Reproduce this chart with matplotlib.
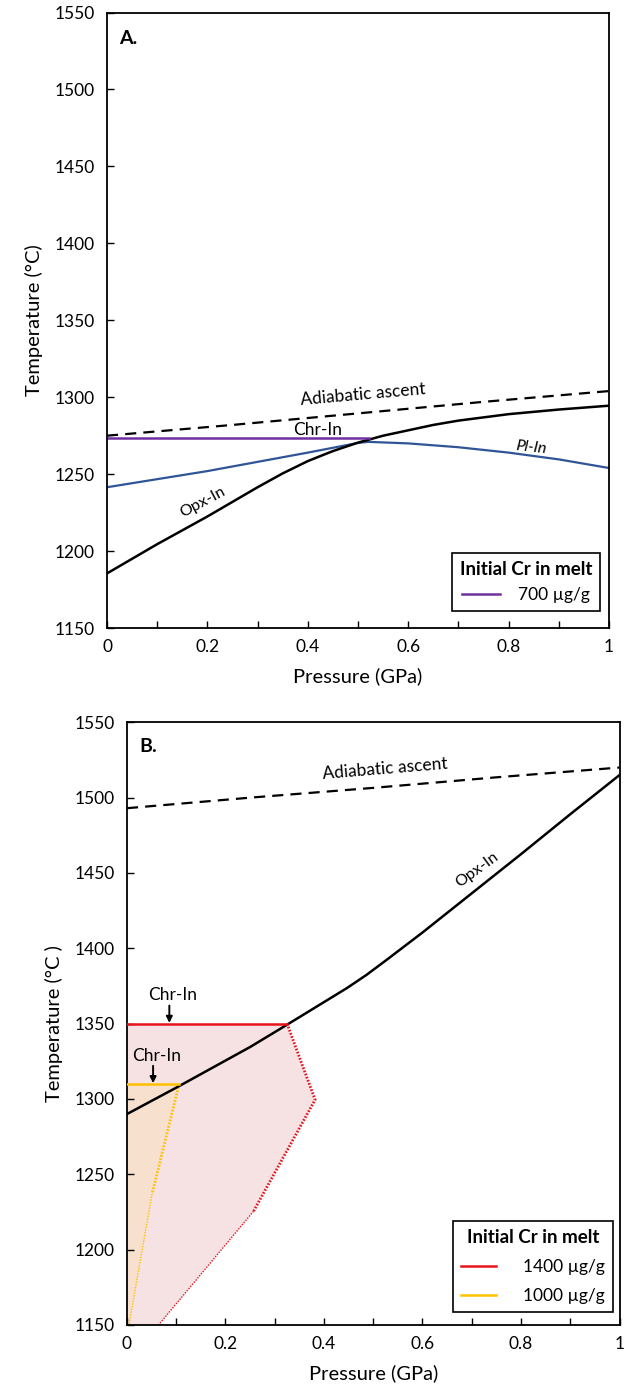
import matplotlib
matplotlib.use("Agg")
import matplotlib.pyplot as plt
from matplotlib.lines import Line2D

plt.rcParams['font.family'] = ['Lato', 'DejaVu Sans']

# ---------------- Panel A data ----------------
a_adiabat_p = [0.0, 0.25, 0.5, 0.75, 1.0]
a_adiabat_t = [1275, 1282, 1289.5, 1297, 1304]

a_opx_p = [0.0, 0.05, 0.1, 0.15, 0.2, 0.25, 0.3, 0.35, 0.4, 0.45, 0.5,
           0.55, 0.6, 0.65, 0.7, 0.8, 0.9, 1.0]
a_opx_t = [1185.5, 1195, 1204.5, 1213.5, 1222.5, 1232, 1241.5, 1250.5, 1258.5,
           1265, 1270.5, 1275, 1278.5, 1282, 1284.8, 1289, 1292, 1294.5]

a_pl_p = [0.0, 0.2, 0.4, 0.5, 0.52, 0.6, 0.7, 0.8, 0.9, 1.0]
a_pl_t = [1241.5, 1252, 1264, 1270.3, 1271, 1270, 1267.5, 1264, 1259.6, 1254]

a_chr_p = [0.0, 0.522]
a_chr_t = [1273.5, 1273.5]

# ---------------- Panel B data ----------------
b_adiabat_p = [0.0, 0.25, 0.5, 0.75, 1.0]
b_adiabat_t = [1493, 1500, 1506.5, 1513.5, 1520]

b_opx_p = [0.0, 0.1, 0.2, 0.25, 0.325, 0.385, 0.446, 0.486, 0.527,
           0.6, 0.7, 0.8, 0.9, 1.0]
b_opx_t = [1290, 1307.5, 1325.5, 1334.5, 1349.3, 1361.3, 1373.5, 1382.3, 1392.3,
           1410.5, 1436.5, 1462.5, 1489, 1515]

b_chr1400_p = [0.0, 0.325]
b_chr1400_t = [1350, 1350]
b_bound1400_p = [0.325, 0.382, 0.257, 0.064]
b_bound1400_t = [1350, 1299.5, 1225.5, 1150]

b_chr1000_p = [0.0, 0.106]
b_chr1000_t = [1310, 1310]
b_bound1000_p = [0.106, 0.051, 0.004]
b_bound1000_t = [1310, 1237, 1150]

p_ticks = [0, 0.2, 0.4, 0.6, 0.8, 1.0]
p_ticklabels = ['0', '0.2', '0.4', '0.6', '0.8', '1']
t_ticks = [1150, 1200, 1250, 1300, 1350, 1400, 1450, 1500, 1550]

PURPLE = '#7030A0'
BLUE = '#2F5597'
RED = '#E8141B'
ORANGE = '#FFC000'

TICK_FS = 12.5
LABEL_FS = 14.5
NOTE_FS = 12.5

fig = plt.figure(figsize=(6.24, 13.95), dpi=100)
axA = fig.add_axes([0.1715, 0.5498, 0.8045, 0.4412])
axB = fig.add_axes([0.2035, 0.0502, 0.7893, 0.432])


def style_axes(ax):
    ax.set_xlim(0, 1)
    ax.set_ylim(1150, 1550)
    ax.set_xticks(p_ticks)
    ax.set_xticklabels(p_ticklabels)
    ax.set_xticks([0.1, 0.3, 0.5, 0.7, 0.9], minor=True)
    ax.set_yticks(t_ticks)
    ax.tick_params(axis='both', which='both', direction='in', labelsize=TICK_FS,
                   width=1.0, color='black')
    ax.tick_params(axis='both', which='major', length=5)
    ax.tick_params(axis='x', which='minor', length=5)
    ax.tick_params(axis='x', which='both', pad=8)
    ax.tick_params(axis='y', which='both', pad=9)
    for s in ax.spines.values():
        s.set_linewidth(1.3)
        s.set_color('black')
    ax.set_xlabel('Pressure (GPa)', fontsize=LABEL_FS, labelpad=9)


# ---------------- Panel A ----------------
style_axes(axA)
axA.set_ylabel('Temperature (\u00b0C)', fontsize=LABEL_FS, labelpad=8)
axA.plot(a_adiabat_p, a_adiabat_t, color='black', lw=1.6, ls=(0, (5, 3.2)))
axA.plot(a_pl_p, a_pl_t, color=BLUE, lw=1.6)
axA.plot(a_opx_p, a_opx_t, color='black', lw=1.8)
axA.plot(a_chr_p, a_chr_t, color=PURPLE, lw=1.8)

axA.text(0.025, 1533, 'A.', fontsize=14, fontweight='bold', va='center', ha='left')
axA.text(0.51, 1302, 'Adiabatic ascent', fontsize=NOTE_FS, rotation=5,
         ha='center', va='center', rotation_mode='anchor')
axA.text(0.42, 1278.5, 'Chr-In', fontsize=NOTE_FS, ha='center', va='center')
axA.text(0.845, 1267, 'Pl-In', fontsize=11.5, rotation=-6, style='italic',
         ha='center', va='center', rotation_mode='anchor')
axA.text(0.19, 1232, 'Opx-In', fontsize=11.5, rotation=28,
         ha='center', va='center', rotation_mode='anchor')

legA = axA.legend([Line2D([], [], color=PURPLE, lw=1.8)], ['700 \u00b5g/g'],
                  title='Initial Cr in melt', loc='lower right',
                  bbox_to_anchor=(0.982, 0.028), fontsize=NOTE_FS,
                  title_fontproperties={'weight': 'bold', 'size': 13.5},
                  fancybox=False, framealpha=1, edgecolor='black',
                  handlelength=2.2, handletextpad=1.0, borderpad=0.45,
                  borderaxespad=0)
legA.get_frame().set_linewidth(1.2)

# ---------------- Panel B ----------------
style_axes(axB)
axB.set_ylabel('Temperature (\u00b0C )', fontsize=LABEL_FS, labelpad=8)

poly1400_p = [0.0] + b_chr1400_p[1:] + b_bound1400_p[1:] + [0.0]
poly1400_t = [1350] + b_chr1400_t[1:] + b_bound1400_t[1:] + [1150]
axB.fill(poly1400_p, poly1400_t, color='#F6E2E2', lw=0, zorder=1)
poly1000_p = [0.0] + b_chr1000_p[1:] + b_bound1000_p[1:] + [0.0]
poly1000_t = [1310] + b_chr1000_t[1:] + b_bound1000_t[1:] + [1150]
axB.fill(poly1000_p, poly1000_t, color='#F7E0CE', lw=0, zorder=1.1)

axB.plot(b_bound1400_p[:3], b_bound1400_t[:3], color=RED, lw=2.0, ls=(0, (0.6, 0.6)), zorder=2)
axB.plot(b_bound1400_p[2:], b_bound1400_t[2:], color=RED, lw=1.0, ls=(0, (1, 1)), zorder=2)
axB.plot(b_bound1000_p[:2], b_bound1000_t[:2], color=ORANGE, lw=2.0, ls=(0, (0.6, 0.6)), zorder=2)
axB.plot(b_bound1000_p[1:], b_bound1000_t[1:], color=ORANGE, lw=1.0, ls=(0, (1, 1)), zorder=2)

axB.plot(b_adiabat_p, b_adiabat_t, color='black', lw=1.6, ls=(0, (5, 3.2)), zorder=3)
axB.plot(b_opx_p, b_opx_t, color='black', lw=1.8, zorder=3)
axB.plot(b_chr1400_p, b_chr1400_t, color=RED, lw=1.8, zorder=3)
axB.plot(b_chr1000_p, b_chr1000_t, color=ORANGE, lw=1.8, zorder=3)

axB.text(0.025, 1534, 'B.', fontsize=14, fontweight='bold', va='center', ha='left')
axB.text(0.525, 1519, 'Adiabatic ascent', fontsize=NOTE_FS, rotation=4.7,
         ha='center', va='center', rotation_mode='anchor')
axB.text(0.71, 1452, 'Opx-In', fontsize=11.5, rotation=36,
         ha='center', va='center', rotation_mode='anchor')
axB.text(0.092, 1369, 'Chr-In', fontsize=NOTE_FS, ha='center', va='center')
axB.text(0.061, 1328.5, 'Chr-In', fontsize=NOTE_FS, ha='center', va='center')
axB.annotate('', xy=(0.086, 1350.5), xytext=(0.086, 1362),
             arrowprops=dict(arrowstyle='-|>', color='black', lw=1.4,
                             mutation_scale=9, shrinkA=0, shrinkB=0), zorder=4)
axB.annotate('', xy=(0.053, 1310.5), xytext=(0.053, 1322),
             arrowprops=dict(arrowstyle='-|>', color='black', lw=1.4,
                             mutation_scale=9, shrinkA=0, shrinkB=0), zorder=4)

legB = axB.legend([Line2D([], [], color=RED, lw=1.8),
                   Line2D([], [], color=ORANGE, lw=1.8)],
                  ['1400 \u00b5g/g', '1000 \u00b5g/g'],
                  title='Initial Cr in melt', loc='lower right',
                  bbox_to_anchor=(0.987, 0.022), fontsize=NOTE_FS,
                  title_fontproperties={'weight': 'bold', 'size': 13.5},
                  fancybox=False, framealpha=1, edgecolor='black',
                  handlelength=2.0, handletextpad=1.6, borderpad=0.45,
                  labelspacing=0.75, borderaxespad=0)
legB.get_frame().set_linewidth(1.2)
legB.set_zorder(5)

fig.savefig('out.png', dpi=100)
